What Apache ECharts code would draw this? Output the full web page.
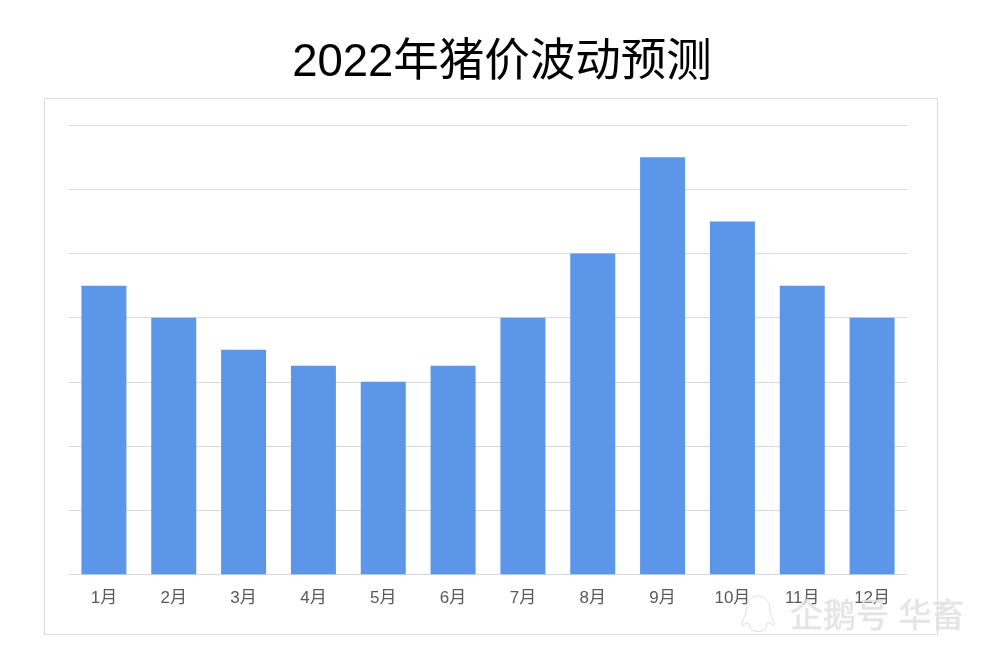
<!DOCTYPE html>
<html>
<head>
<meta charset="utf-8">
<title>2022年猪价波动预测</title>
<script src="https://cdn.jsdelivr.net/npm/echarts@6/dist/echarts.min.js"></script>
<style>
html, body { margin: 0; padding: 0; background: #fff; }
#chart { width: 988px; height: 649px; }
</style>
</head>
<body>
<div id="chart"></div>
<script>
const months = ['1月', '2月', '3月', '4月', '5月', '6月', '7月', '8月', '9月', '10月', '11月', '12月']
// 纵轴标签在原图中没有显示，数值按网格线格数读取
const prices = [22.5, 20, 17.5, 16.25, 15, 16.25, 20, 25, 32.5, 27.5, 22.5, 20]
const fontFamily = '"Liberation Sans", "Noto Sans CJK SC", sans-serif'

const chart = echarts.init(document.getElementById('chart'))

chart.setOption({
  animation: false,
  backgroundColor: '#fff',
  title: {
    text: '2022年猪价波动预测',
    left: 497,
    top: 36,
    textAlign: 'center',
    textStyle: { fontFamily, fontSize: 45.5, fontWeight: 'normal', color: '#000' }
  },
  grid: { left: 69, right: 81, top: 125.3, bottom: 74.7 },
  xAxis: {
    type: 'category',
    data: months,
    axisLine: { lineStyle: { color: '#d9d9d9', width: 1 } },
    axisTick: { show: false },
    axisLabel: { fontFamily, fontSize: 17, color: '#595959', margin: 16 }
  },
  yAxis: {
    type: 'value',
    min: 0,
    max: 35,
    interval: 5,
    axisLine: { show: false },
    axisTick: { show: false },
    axisLabel: { show: false },
    splitLine: { lineStyle: { color: '#d9d9d9', width: 1 } }
  },
  series: [
    {
      type: 'bar',
      data: prices,
      barWidth: 45,
      itemStyle: { color: '#5b96e8' }
    }
  ],
  graphic: [
    {
      type: 'rect',
      z: -1,
      shape: { x: 44.5, y: 98.5, width: 893, height: 536 },
      style: { fill: 'none', stroke: '#d9d9d9', lineWidth: 1 }
    },
    // 水印
    {
      type: 'polygon',
      z: 100,
      shape: {
        points: [[758, 596], [748, 602], [746, 612], [742, 625], [748, 623], [752, 630], [764, 630], [768, 623], [774, 625], [770, 612], [768, 602]],
        smooth: 0.5
      },
      style: { fill: 'rgba(255,255,255,0.6)', stroke: 'rgba(205,205,205,0.7)', lineWidth: 1 }
    },
    {
      type: 'text',
      z: 100,
      x: 790,
      y: 601,
      style: {
        text: '企鹅号 华畜',
        fontFamily,
        fontSize: 33,
        fill: 'rgba(225,225,225,0.85)',
        stroke: 'rgba(170,170,170,0.3)',
        lineWidth: 0.5
      }
    }
  ]
})
</script>
</body>
</html>
